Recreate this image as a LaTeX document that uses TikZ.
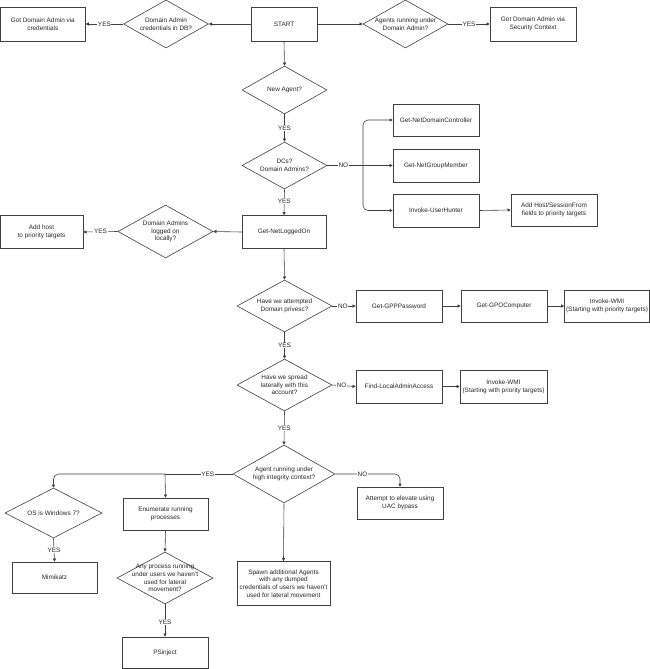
\documentclass[tikz,border=0pt]{standalone}
\usepackage{fontspec}
\setmainfont{Liberation Sans}
\usetikzlibrary{shapes.geometric,arrows.meta}
\begin{document}
\begin{tikzpicture}[x=1pt,y=-1pt,
  every node/.style={font=\fontsize{6.4}{7.7}\selectfont, text=black!85},
  box/.style={draw=black!75, line width=0.6pt, rectangle, inner sep=1pt, align=center, minimum width=85pt, minimum height=33pt},
  dia/.style={draw=black!75, line width=0.6pt, diamond, inner sep=0pt, minimum width=85pt, minimum height=48pt},
  dtxt/.style={align=center, inner sep=0pt},
  conn/.style={draw=black!75, line width=0.6pt, -{Triangle[length=3.2pt,width=3.2pt]}},
  plain/.style={draw=black!75, line width=0.6pt},
  lbl/.style={fill=white, inner sep=0.6pt}
]
\useasboundingbox (0,0) rectangle (650,669);

% top row
\node[box, minimum width=66pt, minimum height=34pt] (start) at (284,24) {START};
\node[dia] (dcred) at (166,24) {};
\node[dtxt] (dcredt) at (dcred) {Domain Admin\\credentials in DB?};
\node[box, minimum height=34pt] (gotcred) at (42.8,24) {Got Domain Admin via\\credentials};
\node[dia] (dagents) at (405.5,24) {};
\node[dtxt] (dagentst) at (dagents) {Agents running under\\Domain Admin?};
\node[box, minimum width=86pt, minimum height=34pt] (gotsec) at (533,24) {Got Domain Admin via\\Security Context};

% new agent
\node[dia] (dnew) at (284.5,90) {};
\node[dtxt] (dnewt) at (dnew) {New Agent?};
\node[dia, minimum height=47pt] (ddcs) at (284.5,165.5) {};
\node[dtxt] (ddcst) at (ddcs) {DCs?\\Domain Admins?};
\node[box, minimum width=86pt, minimum height=32pt] (ndc) at (436,120) {Get-NetDomainController};
\node[box, minimum width=86pt] (ngm) at (436,165.5) {Get-NetGroupMember};
\node[box, minimum width=86pt] (uh) at (436,210.5) {Invoke-UserHunter};
\node[box, minimum width=86pt, minimum height=32pt] (addhost) at (554,210) {Add Host/SessionFrom\\fields to priority targets};

% logged on
\node[box, minimum width=84pt] (netlog) at (284,232) {Get-NetLoggedOn};
\node[dia, minimum width=95pt, minimum height=53pt] (dlog) at (165.5,231.5) {};
\node[dtxt] (dlogt) at (dlog) {Domain Admins\\logged on\\locally?};
\node[box, minimum width=83pt] (addpri) at (41.5,232) {Add host\\to priority targets};

% privesc
\node[dia, minimum width=95pt, minimum height=52pt] (dpriv) at (284.5,306) {};
\node[dtxt] (dprivt) at (dpriv) {Have we attempted\\Domain privesc?};
\node[box, minimum width=86pt, minimum height=32pt] (gpp) at (399,306) {Get-GPPPassword};
\node[box, minimum width=86pt, minimum height=32pt] (gpo) at (504,306) {Get-GPOComputer};
\node[box, minimum width=85pt, minimum height=32pt] (wmia) at (607,306) {Invoke-WMI\\(Starting with priority targets)};

% spread
\node[dia, minimum width=95pt, minimum height=52pt] (dspread) at (284.5,385) {};
\node[dtxt] (dspreadt) at (dspread) {Have we spread\\laterally with this\\account?};
\node[box, minimum width=86pt] (findla) at (399,386.5) {Find-LocalAdminAccess};
\node[box, minimum width=87pt] (wmib) at (503.5,386.5) {Invoke-WMI\\(Starting with priority targets)};

% high integrity
\node[dia, minimum width=102pt, minimum height=58pt] (dhigh) at (284,474) {};
\node[dtxt] (dhight) at (dhigh) {Agent running under\\high integrity context?};
\node[box, minimum width=86pt, minimum height=32pt] (uac) at (400,503) {Attempt to elevate using\\UAC bypass};
\node[box, minimum width=93pt, minimum height=44pt] (spawn) at (283.5,583.5) {Spawn additional Agents\\with any dumped\\credentials of users we haven't\\used for lateral movement};
\node[dia, minimum width=97pt, minimum height=50pt] (dos) at (53.5,513) {};
\node[dtxt] (dost) at (dos) {OS is Windows 7?};
\node[box, minimum height=32pt] (enum) at (165.5,514) {Enumerate running\\processes};
\node[box, minimum height=31pt] (mimi) at (54.5,577.5) {Mimikatz};
\node[dia, minimum width=96pt, minimum height=52pt] (dany) at (165,578) {};
\node[dtxt] (danyt) at (dany) {Any process running\\under users we haven't\\used for lateral\\movement?};
\node[box, minimum width=86pt, minimum height=31pt] (psinj) at (165,652.5) {PSinject};

% branch points
\coordinate (br1) at (363,165.5);
\coordinate (br2) at (400,474);
\coordinate (br3) at (165,474);
\coordinate (br4) at (53.5,474);

% connectors
\draw[conn] (start.west) -- (dcred.east);
\draw[conn] (dcred.west) -- node[lbl, pos=0.5] {YES} (gotcred.east);
\draw[conn] (start.east) -- (dagents.west);
\draw[conn] (dagents.east) -- node[lbl, pos=0.5] {YES} (gotsec.west);
\draw[conn] (start.south) -- (dnew.north);
\draw[conn] (dnew.south) -- node[lbl, pos=0.5] {YES} (ddcs.north);
\draw[plain] (ddcs.east) -- node[lbl, pos=0.45] {NO} (br1);
\draw[conn, rounded corners=5pt] (br1) |- (ndc.west);
\draw[conn] (br1) -- (ngm.west);
\draw[conn, rounded corners=5pt] (br1) |- (uh.west);
\draw[conn] (uh.east) -- (addhost.west);
\draw[conn] (ddcs.south) -- node[lbl, pos=0.45] {YES} (netlog.north);
\draw[conn] (netlog.west) -- (dlog.east);
\draw[conn] (dlog.west) -- node[lbl, pos=0.5] {YES} (addpri.east);
\draw[conn] (netlog.south) -- (dpriv.north);
\draw[conn] (dpriv.east) -- node[lbl, pos=0.45] {NO} (gpp.west);
\draw[conn] (gpp.east) -- (gpo.west);
\draw[conn] (gpo.east) -- (wmia.west);
\draw[conn] (dpriv.south) -- node[lbl, pos=0.5] {YES} (dspread.north);
\draw[conn] (dspread.east) -- node[lbl, pos=0.4] {NO} (findla.west);
\draw[conn] (findla.east) -- (wmib.west);
\draw[conn] (dspread.south) -- node[lbl, pos=0.5] {YES} (dhigh.north);
\draw[conn, rounded corners=5pt] (dhigh.east) -- node[lbl, pos=0.42] {NO} (br2) -- (uac.north);
\draw[plain] (dhigh.west) -- node[lbl, pos=0.37] {YES} (br3);
\draw[conn, rounded corners=5pt] (br3) -- (br4) -- (dos.north);
\draw[conn, rounded corners=5pt] (br3) -- (enum.north);
\draw[conn] (dhigh.south) -- (spawn.north);
\draw[conn] (dos.south) -- node[lbl, pos=0.5] {YES} (mimi.north);
\draw[conn] (enum.south) -- (dany.north);
\draw[conn] (dany.south) -- node[lbl, pos=0.55] {YES} (psinj.north);
\end{tikzpicture}
\end{document}
